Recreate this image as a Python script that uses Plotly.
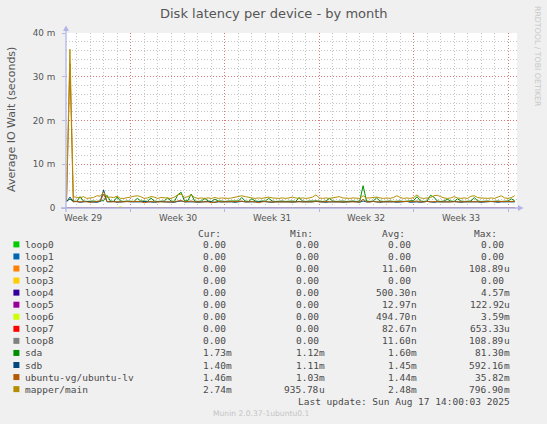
import pandas as pd
import plotly.graph_objects as go

# ---------------- data ----------------
START = "2025-07-15 06:00"
STEP_H = 6  # hours between samples

# values in milliseconds of seconds (axis shows "m")
MAPPER = [2.4, 36.3, 2.6, 2.5, 2.3, 2.6, 2.2, 2.3, 2.4, 2.8,
          2.7, 3.6, 2.4, 2.5, 2.4, 2.7, 2.2, 2.2, 2.3, 2.5,
          2.7, 2.8, 2.6, 2.2, 2.3, 2.6, 2.5, 2.2, 2.4, 2.3,
          2.3, 2.2, 2.5, 3.0, 3.2, 2.4, 2.6, 3.0, 2.4, 2.2,
          2.3, 2.2, 2.3, 2.2, 2.4, 2.2, 2.3, 2.2, 2.2, 2.3,
          2.5, 2.7, 2.8, 2.6, 2.4, 2.3, 2.2, 2.3, 2.2, 2.4,
          2.5, 2.3, 2.2, 2.2, 2.3, 2.2, 2.3, 2.5, 2.3, 2.2,
          2.3, 2.2, 2.3, 2.5, 3.0, 2.3, 2.2, 2.3, 2.2, 2.3,
          2.4, 2.6, 2.3, 2.2, 2.2, 2.3, 2.2, 2.2, 2.8, 2.3,
          2.3, 2.4, 2.5, 2.3, 2.2, 2.3, 2.2, 2.4, 2.8, 2.4,
          2.2, 2.3, 2.2, 2.4, 3.0, 2.3, 2.2, 2.3, 2.4, 2.8,
          2.9, 2.6, 2.3, 2.2, 2.3, 2.6, 2.3, 2.2, 2.3, 2.2,
          2.7, 2.8, 2.4, 2.3, 2.2, 2.2, 2.3, 2.2, 2.5, 2.8,
          2.3, 2.2, 2.4, 2.8]
SDA = [1.6, 2.0, 1.6, 1.5, 2.6, 1.6, 1.5, 1.6, 1.6, 1.5,
       1.6, 1.7, 2.9, 1.6, 1.5, 2.5, 1.6, 1.5, 1.6, 1.6,
       1.5, 2.2, 1.6, 1.6, 1.5, 2.3, 1.6, 1.5, 1.6, 1.6,
       2.3, 1.6, 1.5, 3.0, 3.6, 1.6, 1.7, 3.2, 1.6, 1.5,
       1.6, 2.2, 1.6, 1.5, 2.0, 1.6, 1.6, 1.5, 1.6, 1.6,
       1.5, 1.6, 2.4, 1.6, 1.5, 2.1, 1.6, 1.5, 1.6, 1.6,
       2.2, 1.6, 1.5, 1.6, 1.6, 1.5, 1.6, 1.6, 1.5, 2.4,
       1.6, 1.5, 1.6, 1.6, 1.7, 1.6, 1.5, 1.6, 2.2, 1.6,
       1.5, 1.6, 1.6, 1.5, 1.6, 1.6, 1.5, 1.6, 5.1, 1.6,
       1.5, 1.6, 2.3, 1.6, 1.5, 1.6, 1.6, 1.5, 1.6, 1.6,
       1.5, 1.6, 1.6, 1.7, 2.6, 1.6, 1.5, 1.6, 2.9, 2.5,
       1.6, 1.5, 1.6, 2.0, 1.6, 1.5, 2.1, 1.6, 1.5, 1.6,
       1.6, 2.4, 1.6, 1.5, 1.6, 1.6, 1.5, 1.6, 1.6, 1.5,
       1.6, 1.6, 2.1, 1.6]
SDB = [1.4, 2.5, 1.4, 1.5, 1.3, 1.4, 1.5, 1.4, 1.4, 1.3,
       1.5, 4.1, 1.4, 1.4, 1.5, 1.3, 1.4, 1.4, 1.5, 1.4,
       1.4, 1.3, 1.4, 1.5, 1.4, 1.4, 1.3, 1.4, 1.5, 1.4,
       1.4, 1.4, 1.3, 1.5, 1.6, 1.4, 1.4, 1.5, 1.4, 1.3,
       1.4, 1.4, 1.5, 1.4, 1.3, 1.4, 1.4, 1.5, 1.4, 1.4,
       1.3, 1.4, 1.5, 1.4, 1.4, 1.3, 1.4, 1.4, 1.5, 1.4,
       1.4, 1.3, 1.4, 1.4, 1.5, 1.4, 1.4, 1.3, 1.4, 1.5,
       1.4, 1.4, 1.3, 1.4, 1.5, 1.4, 1.4, 1.3, 1.4, 1.4,
       1.5, 1.4, 1.3, 1.4, 1.4, 1.5, 1.4, 1.3, 1.6, 1.4,
       1.4, 1.5, 1.4, 1.3, 1.4, 1.4, 1.5, 1.4, 1.3, 1.4,
       1.4, 1.5, 1.3, 1.4, 1.4, 1.3, 1.4, 1.5, 1.4, 1.3,
       1.4, 1.4, 1.3, 1.3, 1.4, 1.5, 1.4, 1.3, 1.4, 1.4,
       1.5, 1.4, 1.4, 1.3, 1.4, 1.4, 1.5, 1.4, 1.3, 1.4,
       1.4, 1.5, 1.4, 1.4]
LV = [1.4, 33.0, 1.5, 1.4, 1.4, 1.5, 1.4, 1.3, 1.4, 1.5,
      1.6, 3.2, 1.5, 1.4, 1.4, 1.5, 1.4, 1.4, 1.4, 1.5,
      1.4, 1.4, 1.5, 1.2, 1.4, 1.5, 1.4, 1.4, 1.5, 1.4,
      1.4, 1.5, 1.4, 1.6, 1.7, 1.4, 1.5, 1.6, 1.4, 1.4,
      1.5, 1.4, 1.4, 1.2, 1.4, 1.5, 1.4, 1.4, 1.4, 1.5,
      1.4, 1.5, 1.6, 1.4, 1.4, 1.5, 1.4, 1.2, 1.4, 1.5,
      1.4, 1.4, 1.5, 1.4, 1.4, 1.5, 1.4, 1.4, 1.5, 1.4,
      1.4, 1.5, 1.4, 1.4, 1.6, 1.4, 1.4, 1.5, 1.4, 1.4,
      1.5, 1.4, 1.4, 1.5, 1.4, 1.4, 1.5, 1.4, 2.0, 1.4,
      1.4, 1.5, 1.4, 1.4, 1.5, 1.4, 1.4, 1.5, 1.4, 1.4,
      1.5, 1.4, 1.4, 1.5, 1.6, 1.4, 1.4, 1.5, 1.4, 1.5,
      1.5, 1.4, 1.4, 1.5, 1.4, 1.4, 1.5, 1.4, 1.4, 1.5,
      1.4, 1.5, 1.4, 1.4, 1.5, 1.4, 1.4, 1.5, 1.4, 1.4,
      1.5, 1.4, 1.4, 1.5]

# loop devices are idle: sparse samples (time, value)
LOOP_IDLE_T = ["2025-07-15 06:00", "2025-08-17 12:00"]
LOOP_IDLE_V = [0.0, 0.0]
LOOP6_T = ["2025-07-15 06:00", "2025-07-19 00:00", "2025-07-19 06:00",
           "2025-07-19 12:00", "2025-08-17 12:00"]
LOOP6_V = [0.0, 0.0, 0.3, 0.0, 0.0]

NAMES = ["loop0", "loop1", "loop2", "loop3", "loop4", "loop5", "loop6",
         "loop7", "loop8", "sda", "sdb", "ubuntu-vg/ubuntu-lv", "mapper/main"]
COLORS = ["#00CC00", "#0066B3", "#FF8000", "#FFCC00", "#330099", "#990099",
          "#CCFF00", "#FF0000", "#808080", "#008F00", "#00487D", "#B35A00",
          "#B38F00"]
CUR = ["0.00", "0.00", "0.00", "0.00", "0.00", "0.00", "0.00", "0.00", "0.00",
       "1.73m", "1.40m", "1.46m", "2.74m"]
MIN = ["0.00", "0.00", "0.00", "0.00", "0.00", "0.00", "0.00", "0.00", "0.00",
       "1.12m", "1.11m", "1.03m", "935.78u"]
AVG = ["0.00", "0.00", "11.60n", "0.00", "500.30n", "12.97n", "494.70n",
       "82.67n", "11.60n", "1.60m", "1.45m", "1.44m", "2.48m"]
MAX = ["0.00", "0.00", "108.89u", "0.00", "4.57m", "122.92u", "3.59m",
       "653.33u", "108.89u", "81.30m", "592.16m", "35.82m", "796.90m"]

Y_TICKS = [0, 10, 20, 30, 40]
Y_TICKTEXT = ["0", "10 m", "20 m", "30 m", "40 m"]
WEEK_LABELS = ["Week 29", "Week 30", "Week 31", "Week 32", "Week 33"]
WEEK_LABEL_AT = ["2025-07-16 12:00", "2025-07-23 12:00", "2025-07-30 12:00",
                 "2025-08-06 12:00", "2025-08-13 12:00"]
WEEK_STARTS = ["2025-07-20", "2025-07-27", "2025-08-03", "2025-08-10", "2025-08-17"]
X_RANGE = ["2025-07-15 05:00", "2025-08-17 16:00"]

TITLE = "Disk latency per device - by month"
Y_TITLE = "Average IO Wait (seconds)"
LAST_UPDATE = "Last update: Sun Aug 17 14:00:03 2025"
FOOTER = "Munin 2.0.37-1ubuntu0.1"
SIDE = "RRDTOOL / TOBI OETIKER"

# ---------------- layout geometry (pixels) ----------------
FW, FH = 547, 424
L, R, T, B = 66, 30, 33, 216
PW, PH = FW - L - R, FH - T - B

def PX(x):
    return (x - L) / PW

def PY(y):
    return (T + PH - y) / PH

TXT = "#555555"
LEGTXT = "#4A4A4A"
AXC = "#B4B4E6"
SANS = "DejaVu Sans"
MONO = "DejaVu Sans Mono"

times = pd.date_range(START, periods=len(MAPPER), freq=f"{STEP_H}h")

fig = go.Figure()
series_xy = {}
for n in NAMES[:9]:
    if n == "loop6":
        series_xy[n] = (LOOP6_T, LOOP6_V)
    else:
        series_xy[n] = (LOOP_IDLE_T, LOOP_IDLE_V)
series_xy["sda"] = (times, SDA)
series_xy["sdb"] = (times, SDB)
series_xy["ubuntu-vg/ubuntu-lv"] = (times, LV)
series_xy["mapper/main"] = (times, MAPPER)

for n, c in zip(NAMES, COLORS):
    xs, ys = series_xy[n]
    fig.add_trace(go.Scatter(x=xs, y=ys, mode="lines", name=n,
                             line=dict(color=c, width=1), showlegend=False,
                             hoverinfo="skip"))

ann = []
def add_text(text, x, y, size, color=TXT, family=SANS, xanchor="center",
             yanchor="middle", angle=0, xref="paper"):
    ann.append(dict(text=text, x=x, y=y, xref=xref, yref="paper",
                    xanchor=xanchor, yanchor=yanchor, showarrow=False,
                    textangle=angle, borderpad=0, borderwidth=0,
                    font=dict(family=family, size=size, color=color)))

add_text(TITLE, PX(273.5), PY(13.5), 13)
add_text(Y_TITLE, PX(11), PY(120), 11, angle=-90)
add_text(SIDE, PX(538), PY(56), 7.8, color="#C8C8C8", angle=90)
for lab, at in zip(WEEK_LABELS, WEEK_LABEL_AT):
    add_text(lab, at, PY(217.5), 8.8, xref="x")

# legend table
LEG_FS = 9.5
ROW0, ROWH = 244.4, 12.06
HEAD_Y = 233.4
heads = ["Cur:", "Min:", "Avg:", "Max:"]
head_x = [220.5, 312.8, 404.8, 497.2]
num_end = [226.3, 318.6, 410.9, 503.5]
for h, hx in zip(heads, head_x):
    add_text(h, PX(hx), PY(HEAD_Y), LEG_FS, color=LEGTXT, family=MONO, xanchor="right")

shapes = []
cols = [CUR, MIN, AVG, MAX]
for i, (n, c) in enumerate(zip(NAMES, COLORS)):
    yc = ROW0 + ROWH * i
    shapes.append(dict(type="rect", xref="paper", yref="paper",
                       x0=PX(13.4), x1=PX(19.4), y0=PY(yc + 3), y1=PY(yc - 3),
                       fillcolor=c, line=dict(width=0), layer="above"))
    add_text(n, PX(25), PY(yc), LEG_FS, color=LEGTXT, family=MONO, xanchor="left")
    for col, xe in zip(cols, num_end):
        v = col[i]
        if v[-1].isalpha():
            num, suf = v[:-1], v[-1]
        else:
            num, suf = v, ""
        add_text(num, PX(xe), PY(yc), LEG_FS, color=LEGTXT, family=MONO, xanchor="right")
        if suf:
            add_text(suf, PX(xe), PY(yc), LEG_FS, color=LEGTXT, family=MONO, xanchor="left")

add_text(LAST_UPDATE, PX(509.5), PY(401.2), LEG_FS, color=LEGTXT, family=MONO, xanchor="right")
add_text(FOOTER, PX(261), PY(413.3), 7.6, color="#C4C4C4")

# axis lines with arrows
shapes.append(dict(type="line", xref="paper", yref="paper",
                   x0=PX(61), x1=PX(518), y0=0, y1=0,
                   line=dict(color=AXC, width=1.3), layer="above"))
shapes.append(dict(type="path", xref="paper", yref="paper",
                   path=f"M {PX(518)},{PY(205)} L {PX(523.5)},{PY(208)} L {PX(518)},{PY(211)} Z",
                   fillcolor=AXC, line=dict(color=AXC, width=0), layer="above"))
shapes.append(dict(type="line", xref="paper", yref="paper",
                   x0=0, x1=0, y0=PY(212), y1=PY(31),
                   line=dict(color=AXC, width=1.3), layer="above"))
shapes.append(dict(type="path", xref="paper", yref="paper",
                   path=f"M {PX(63)},{PY(31)} L {PX(66)},{PY(25.5)} L {PX(69)},{PY(31)} Z",
                   fillcolor=AXC, line=dict(color=AXC, width=0), layer="above"))

MAJ = "rgba(240,60,60,0.55)"
MINC = "#C4C4C4"
DASH = "1px,2px"

fig.update_layout(
    width=FW, height=FH, autosize=False,
    margin=dict(l=L, r=R, t=T, b=B, pad=0),
    paper_bgcolor="#F0F0F0", plot_bgcolor="#FFFFFF",
    showlegend=False,
    annotations=ann, shapes=shapes,
    xaxis=dict(type="date", range=X_RANGE, tickmode="array", tickvals=WEEK_STARTS,
               showticklabels=False, showgrid=True, gridcolor=MAJ, griddash=DASH,
               gridwidth=1, zeroline=False, showline=False,
               ticks="outside", ticklen=3, tickcolor=AXC,
               minor=dict(dtick=86400000, tick0="2025-07-13", showgrid=True,
                          gridcolor=MINC, griddash=DASH, gridwidth=1, ticks="")),
    yaxis=dict(range=[0, 40], tickmode="array", tickvals=Y_TICKS, ticktext=Y_TICKTEXT,
               showgrid=True, gridcolor=MAJ, griddash=DASH, gridwidth=1,
               zeroline=False, showline=False, ticks="outside", ticklen=3,
               tickcolor=AXC, ticklabelstandoff=5,
               tickfont=dict(family=SANS, size=8.8, color=TXT),
               minor=dict(dtick=2, showgrid=True, gridcolor=MINC, griddash=DASH,
                          gridwidth=1, ticks="")),
    font=dict(family=SANS, color=TXT),
)

fig.write_html("out.html", config={"displayModeBar": False},
               post_script="document.body.style.margin='0';document.body.style.overflow='hidden';")
